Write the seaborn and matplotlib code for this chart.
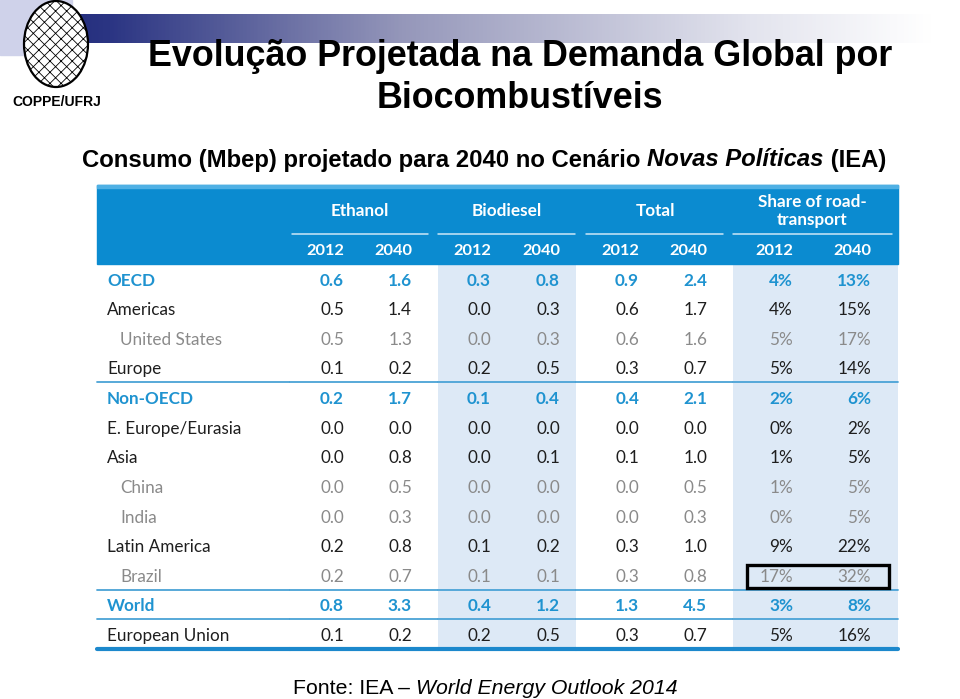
import numpy as np
import pandas as pd
import seaborn as sns
import matplotlib
matplotlib.use("Agg")
import matplotlib.pyplot as plt
from matplotlib.colors import ListedColormap, LinearSegmentedColormap
from matplotlib.patches import Rectangle, Ellipse

# ---------------- data ----------------
regions = ["OECD", "Americas", "United States", "Europe", "Non-OECD",
           "E. Europe/Eurasia", "Asia", "China", "India", "Latin America",
           "Brazil", "World", "European Union"]
row_level = ["agg", "region", "sub", "region", "agg", "region", "region",
             "sub", "sub", "region", "sub", "agg", "region"]
ethanol_2012 = [0.6, 0.5, 0.5, 0.1, 0.2, 0.0, 0.0, 0.0, 0.0, 0.2, 0.2, 0.8, 0.1]
ethanol_2040 = [1.6, 1.4, 1.3, 0.2, 1.7, 0.0, 0.8, 0.5, 0.3, 0.8, 0.7, 3.3, 0.2]
biodiesel_2012 = [0.3, 0.0, 0.0, 0.2, 0.1, 0.0, 0.0, 0.0, 0.0, 0.1, 0.1, 0.4, 0.2]
biodiesel_2040 = [0.8, 0.3, 0.3, 0.5, 0.4, 0.0, 0.1, 0.0, 0.0, 0.2, 0.1, 1.2, 0.5]
total_2012 = [0.9, 0.6, 0.6, 0.3, 0.4, 0.0, 0.1, 0.0, 0.0, 0.3, 0.3, 1.3, 0.3]
total_2040 = [2.4, 1.7, 1.6, 0.7, 2.1, 0.0, 1.0, 0.5, 0.3, 1.0, 0.8, 4.5, 0.7]
share_2012 = [4, 4, 5, 5, 2, 0, 1, 1, 0, 9, 17, 3, 5]
share_2040 = [13, 15, 17, 14, 6, 2, 5, 5, 5, 22, 32, 8, 16]
groups = ["Ethanol", "Biodiesel", "Total", "Share of road-\ntransport"]
years = ["2012", "2040"]
group_shaded = [0, 1, 0, 1]
highlight_row = "Brazil"

title1 = "Evolução Projetada na Demanda Global por"
title2 = "Biocombustíveis"
subtitle = [("Consumo (Mbep) projetado para 2040 no Cenário ", "normal"),
            ("Novas Políticas", "italic"), (" (IEA)", "normal")]
footer = [("Fonte: IEA – ", "normal"), ("World Energy Outlook 2014", "italic")]

# ---------------- layout constants (pixels) ----------------
W, H = 960, 699
TBL_X0, TBL_X1 = 97, 898
HDR_Y0, HDR_Y1 = 185, 264
BODY_Y1 = 649
LABEL_X1 = 290
GROUP_EDGES = [290, 438, 576, 733, 898]
COL_CENTERS = [325, 393, 472, 541, 620, 688, 774, 852]
GROUP_CENTERS = [360, 507, 655, 812]
UNDERLINES = [(292, 428), (438, 575), (586, 723), (733, 892)]

BLUE_HDR = "#0b8bd0"
BLUE_TXT = "#1f93d0"
GRAY_TXT = "#8a8a8a"
BLACK_TXT = "#1e1e1e"
SHADE = "#dde9f6"
LINE_C = "#4aa3d6"
TSIZE = 12.3

sns.set_theme(style="white")
plt.rcParams["font.family"] = ["Liberation Sans", "DejaVu Sans"]
TFONT = ["Lato", "DejaVu Sans"]

fig = plt.figure(figsize=(9.6, 6.99), dpi=100)
fig.patch.set_facecolor("white")


def fx(x):
    return x / W


def fy(y):
    return 1 - y / H


def add_ax(x0, y0, x1, y1):
    return fig.add_axes([x0 / W, 1 - y1 / H, (x1 - x0) / W, (y1 - y0) / H])


# ---------------- top decoration ----------------
fig.patches.append(Rectangle((0, fy(55)), fx(72), 55 / H, transform=fig.transFigure,
                             color="#cfd2ea", zorder=0))
axg = add_ax(14, 14, 960, 43)
grad = LinearSegmentedColormap.from_list(
    "g", [(0, "#1c2577"), (0.1, "#2b3583"), (0.41, "#9597ba"),
          (0.78, "#e3e4ee"), (0.97, "#ffffff"), (1, "#ffffff")])
axg.imshow(np.linspace(0, 1, 512)[None, :], aspect="auto", cmap=grad)
axg.axis("off")

plt.rcParams["hatch.linewidth"] = 0.6
logo = Ellipse((fx(56), fy(44)), 64 / W, 86 / H, transform=fig.transFigure,
               facecolor="white", edgecolor="black", lw=1.6, hatch="xxx", zorder=5)
fig.patches.append(logo)
fig.text(fx(57), fy(102), "COPPE/UFRJ", ha="center", va="center",
         fontsize=10, fontweight="bold", color="black")

fig.text(fx(520), fy(56), title1, ha="center", va="center", fontsize=25.8,
         fontweight="bold", color="black")
fig.text(fx(520), fy(99), title2, ha="center", va="center", fontsize=25.8,
         fontweight="bold", color="black")

renderer = fig.canvas.get_renderer()


def rich(pieces, xc, y, **kw):
    texts, widths = [], []
    for s, style in pieces:
        t = fig.text(0, fy(y), s, ha="left", va="center", fontstyle=style, **kw)
        texts.append(t)
        widths.append(t.get_window_extent(renderer).width)
    x = xc - sum(widths) / 2
    for t, w in zip(texts, widths):
        t.set_x(x / W)
        x += w


rich(subtitle, 484, 160, fontsize=17.2, fontweight="bold", color="black")
rich(footer, 485, 688, fontsize=15.3, color="black")

# ---------------- table header ----------------
fig.patches.append(Rectangle((fx(TBL_X0), fy(HDR_Y1)), (TBL_X1 - TBL_X0) / W,
                             (HDR_Y1 - HDR_Y0) / H, transform=fig.transFigure,
                             color=BLUE_HDR, zorder=1))
fig.patches.append(Rectangle((fx(TBL_X0), fy(HDR_Y0 + 3)), (TBL_X1 - TBL_X0) / W,
                             3 / H, transform=fig.transFigure,
                             color="#4fb0e4", zorder=1))
for gname, gc in zip(groups, GROUP_CENTERS):
    fig.text(fx(gc), fy(211), gname, ha="center", va="center", color="white",
             fontsize=12.3, fontweight="bold", family=TFONT, linespacing=1.2, zorder=3)
for (a, b) in UNDERLINES:
    fig.add_artist(plt.Line2D([fx(a), fx(b)], [fy(234), fy(234)],
                              transform=fig.transFigure, color="#cde7f6", lw=1.1))
for k, cc in enumerate(COL_CENTERS):
    fig.text(fx(cc), fy(251), years[k % 2], ha="center", va="center", color="white",
             fontsize=11.8, fontweight="bold", family=TFONT, zorder=3)

# ---------------- table body ----------------
df = pd.DataFrame({
    "region": regions, "level": row_level,
    "Ethanol 2012": ethanol_2012, "Ethanol 2040": ethanol_2040,
    "Biodiesel 2012": biodiesel_2012, "Biodiesel 2040": biodiesel_2040,
    "Total 2012": total_2012, "Total 2040": total_2040,
    "Share 2012": share_2012, "Share 2040": share_2040,
})
value_cols = ["Ethanol 2012", "Ethanol 2040", "Biodiesel 2012", "Biodiesel 2040",
              "Total 2012", "Total 2040", "Share 2012", "Share 2040"]
nrows = len(df)
YOFF = 0.56


def row_style(level):
    if level == "agg":
        return BLUE_TXT, "bold"
    if level == "sub":
        return GRAY_TXT, "normal"
    return BLACK_TXT, "normal"


def separators(ax):
    for i in range(1, nrows):
        if df["level"][i] == "agg" or df["level"][i - 1] == "agg" and i - 1 == nrows - 2:
            ax.axhline(i, color=LINE_C, lw=1.3, clip_on=False)
    ax.axhline(nrows, color="#1c88cc", lw=3, clip_on=False)


# label column
axl = add_ax(TBL_X0, HDR_Y1, LABEL_X1, BODY_Y1)
sns.heatmap(np.zeros((nrows, 1)), ax=axl, cmap=ListedColormap(["white"]),
            cbar=False, xticklabels=False, yticklabels=False)
for i, (name, lvl) in enumerate(zip(df["region"], df["level"])):
    c, w = row_style(lvl)
    x0 = (120 if lvl == "sub" else 107) - TBL_X0
    axl.text(x0 / (LABEL_X1 - TBL_X0), i + YOFF, name, ha="left", va="center",
             color=c, fontweight=w, fontsize=TSIZE, family=TFONT)
separators(axl)

# value groups
for g in range(4):
    gx0, gx1 = GROUP_EDGES[g], GROUP_EDGES[g + 1]
    ax = add_ax(gx0, HDR_Y1, gx1, BODY_Y1)
    shade = np.full((nrows, 2), group_shaded[g])
    sns.heatmap(shade, ax=ax, cmap=ListedColormap(["white", SHADE]), vmin=0, vmax=1,
                cbar=False, xticklabels=False, yticklabels=False)
    for j in range(2):
        col = value_cols[2 * g + j]
        xr = (COL_CENTERS[2 * g + j] + 19 - gx0) / (gx1 - gx0) * 2
        for i in range(nrows):
            v = df[col][i]
            s = f"{v:.0f}%" if g == 3 else f"{v:.1f}"
            c, w = row_style(df["level"][i])
            ax.text(xr, i + YOFF, s, ha="right", va="center", color=c,
                    fontweight=w, fontsize=TSIZE, family=TFONT)
    separators(ax)
    if g == 3:
        hi = regions.index(highlight_row)
        bx0 = (747 - gx0) / (gx1 - gx0) * 2
        bx1 = (889 - gx0) / (gx1 - gx0) * 2
        ax.add_patch(Rectangle((bx0, hi + 0.15), bx1 - bx0, 0.8, fill=False,
                               ec="black", lw=2.4, clip_on=False, zorder=5))

fig.savefig("out.png", dpi=100)
